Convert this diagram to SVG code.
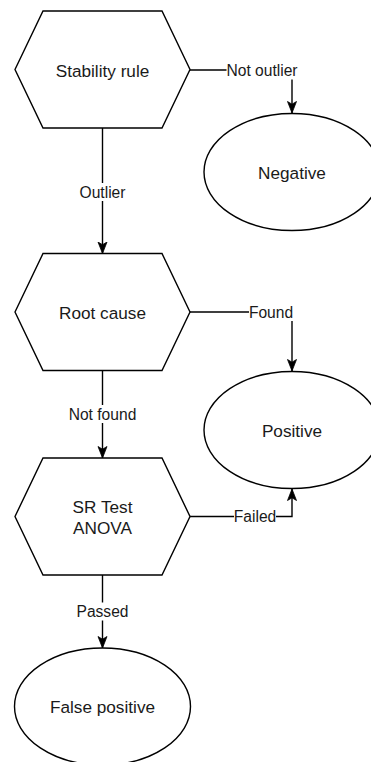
<svg xmlns="http://www.w3.org/2000/svg" width="371" height="762" viewBox="0 0 371 762">
  <style>
    .shape { fill: #ffffff; stroke: #000000; stroke-width: 1.4; }
    .edge { fill: none; stroke: #000000; stroke-width: 1.4; }
    .node-text { font-family: "Liberation Sans", Arial, sans-serif; font-size: 17.2px; fill: #1a1a1a; text-anchor: middle; }
    .edge-text { font-family: "Liberation Sans", Arial, sans-serif; font-size: 15.6px; fill: #1a1a1a; text-anchor: middle; }
    .label-bg { fill: #ffffff; }
  </style>
  <defs>
    <marker id="arrow" markerUnits="userSpaceOnUse" markerWidth="13" markerHeight="11" refX="12" refY="5" orient="auto">
      <path d="M0.5,0.5 L12,5 L0.5,9.5 L3.2,5 Z" fill="#000000" stroke="#000000" stroke-width="0.8" stroke-linejoin="miter"/>
    </marker>
  </defs>

  <rect width="371" height="762" fill="#ffffff"/>

  <!-- connectors -->
  <g id="connectors">
    <path class="edge" d="M190,70 H292 V113" marker-end="url(#arrow)"/>
    <path class="edge" d="M102.5,128 V253.5" marker-end="url(#arrow)"/>
    <path class="edge" d="M190,312 H292 V371" marker-end="url(#arrow)"/>
    <path class="edge" d="M102.5,370.5 V458" marker-end="url(#arrow)"/>
    <path class="edge" d="M190,516.5 H292 V489" marker-end="url(#arrow)"/>
    <path class="edge" d="M102.5,575 V648" marker-end="url(#arrow)"/>

    <rect class="label-bg" x="226.5" y="61.5" width="71" height="18"/>
    <text class="edge-text" x="262" y="76">Not outlier</text>

    <rect class="label-bg" x="79.5" y="183" width="46" height="18"/>
    <text class="edge-text" x="102.5" y="197.5">Outlier</text>

    <rect class="label-bg" x="249" y="303" width="44" height="18"/>
    <text class="edge-text" x="271" y="317.5">Found</text>

    <rect class="label-bg" x="68.5" y="405" width="68" height="18"/>
    <text class="edge-text" x="102.5" y="419.5">Not found</text>

    <rect class="label-bg" x="234" y="507.5" width="42" height="18"/>
    <text class="edge-text" x="255" y="522">Failed</text>

    <rect class="label-bg" x="76.5" y="602.5" width="52" height="18"/>
    <text class="edge-text" x="102.5" y="617">Passed</text>
  </g>

  <!-- decision steps -->
  <g id="stability-rule">
    <polygon class="shape" points="15,69.5 43,11 162,11 190,69.5 162,128 43,128"/>
    <text class="node-text" x="102.5" y="76.5">Stability rule</text>
  </g>

  <g id="root-cause">
    <polygon class="shape" points="15,312 43,253.5 162,253.5 190,312 162,370.5 43,370.5"/>
    <text class="node-text" x="102.5" y="318.5">Root cause</text>
  </g>

  <g id="sr-test">
    <polygon class="shape" points="15,516.5 43,458 162,458 190,516.5 162,575 43,575"/>
    <text class="node-text" x="102.5" y="512.5">SR Test</text>
    <text class="node-text" x="102.5" y="533.5">ANOVA</text>
  </g>

  <!-- outcomes -->
  <g id="negative">
    <ellipse class="shape" cx="292" cy="172" rx="88" ry="58.5"/>
    <text class="node-text" x="292" y="178.5">Negative</text>
  </g>

  <g id="positive">
    <ellipse class="shape" cx="292" cy="430" rx="88" ry="58.5"/>
    <text class="node-text" x="292" y="436.5">Positive</text>
  </g>

  <g id="false-positive">
    <ellipse class="shape" cx="102.5" cy="706.5" rx="88" ry="58.5"/>
    <text class="node-text" x="102.5" y="713">False positive</text>
  </g>
</svg>
